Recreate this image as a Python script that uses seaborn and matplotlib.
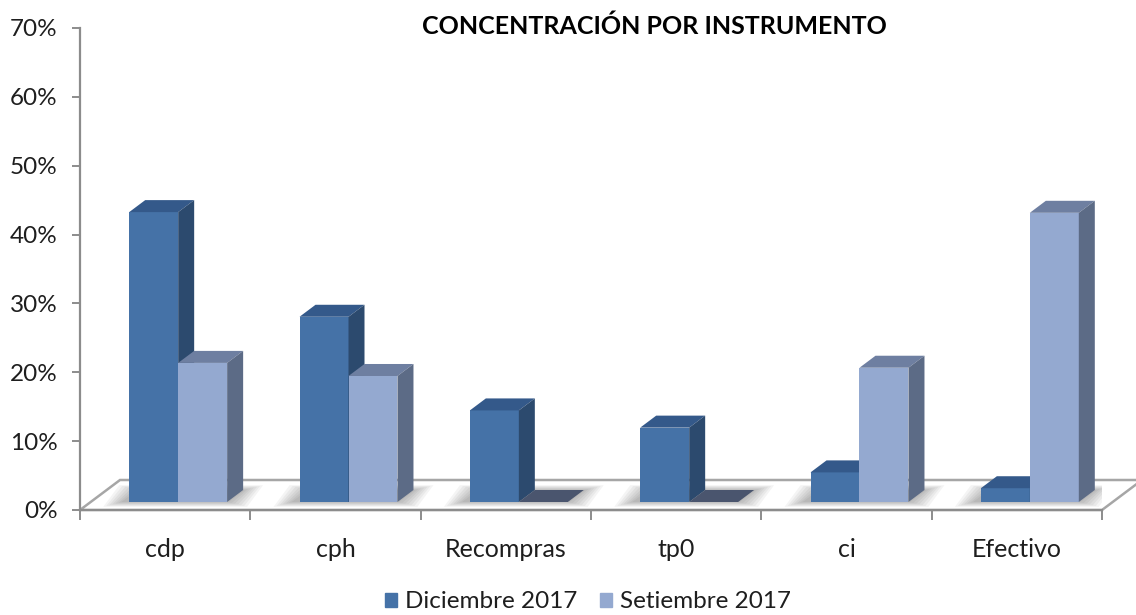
import numpy as np
import pandas as pd
import matplotlib
matplotlib.use('Agg')
import matplotlib.pyplot as plt
import seaborn as sns
from matplotlib.patches import Polygon, Patch
from matplotlib.transforms import ScaledTranslation
from matplotlib.ticker import PercentFormatter
from matplotlib.colors import to_rgb

# Datos (fraccion del total)
categorias = ['cdp', 'cph', 'Recompras', 'tp0', 'ci', 'Efectivo']
diciembre = [0.421, 0.269, 0.133, 0.108, 0.043, 0.020]
setiembre = [0.202, 0.183, 0.0, 0.0, 0.195, 0.420]
series = ['Diciembre 2017', 'Setiembre 2017']
titulo = 'CONCENTRACIÓN POR INSTRUMENTO'

# colores de las caras: frente, arriba, costado
frente = ['#4572A7', '#94A9D0']
superior = ['#34598A', '#6E7FA1']
lateral = ['#2C4A6E', '#5C6B86']
cero = '#4A556E'
gris = '#8C8C8C'

df = pd.DataFrame({
    'Instrumento': categorias * 2,
    'Valor': diciembre + setiembre,
    'Periodo': [series[0]] * len(categorias) + [series[1]] * len(categorias),
})

sns.set_theme(style='white')
plt.rcParams['font.family'] = ['Lato', 'DejaVu Sans']

DPI = 100
W, H = 1136, 615
fig = plt.figure(figsize=(W / DPI, H / DPI), dpi=DPI)
fig.patch.set_facecolor('white')
ax = fig.add_axes([80 / W, 1 - 510 / H, 1022 / W, 482 / H])

sns.barplot(data=df, x='Instrumento', y='Valor', hue='Periodo', order=categorias,
            hue_order=series, palette=frente, width=0.575, saturation=1,
            linewidth=0, legend=False, ax=ax)
ax.set_xlim(-0.5, len(categorias) - 0.5)
ax.set_ylim(0, 0.7)

barras = sorted(list(ax.patches), key=lambda p: p.get_x())

# escala pixel -> datos
px_x = len(categorias) / 1022
px_y = 0.7 / 482
dx, dy = 16 * px_x, 12 * px_y
desplaz = ax.transData + ScaledTranslation(13 / DPI, 8 / DPI, fig.dpi_scale_trans)

# piso en perspectiva
ox, oy = 40 / 1022, 30 / 482
piso = Polygon([(0, 0), (1, 0), (1 + ox, oy), (ox, oy)], closed=True,
               transform=ax.transAxes, facecolor='white', edgecolor='#A6A6A6',
               lw=1.8, clip_on=False, zorder=0.5)
ax.add_patch(piso)

# sombras suaves sobre el piso
for i in range(len(categorias)):
    grupo = [b for b in barras if abs(b.get_x() + b.get_width() / 2 - i) < 0.5]
    x0 = min(b.get_x() for b in grupo)
    x1 = max(b.get_x() + b.get_width() for b in grupo)
    for k in range(7):
        ex, ey = (k * 3 + 2) * px_x, (k * 0.8) * px_y
        sh = Polygon([(x0 - ex - 6 * px_x, -ey), (x1 + ex, -ey),
                      (x1 + dx + ex, dy + ey), (x0 + dx - ex - 6 * px_x, dy + ey)],
                     closed=True, transform=desplaz, facecolor='black',
                     edgecolor='none', alpha=0.045, zorder=0.8)
        ax.add_patch(sh)

# caras 3D de cada barra
for n, b in enumerate(barras):
    es_sep = np.allclose(to_rgb(b.get_facecolor()[:3]), to_rgb(frente[1]), atol=0.02)
    s = 1 if es_sep else 0
    x0, w, h = b.get_x(), b.get_width(), b.get_height()
    z = 2 + n * 0.01
    b.set_transform(desplaz)
    b.set_zorder(z)
    top_color = cero if h == 0 else superior[s]
    arriba = Polygon([(x0, h), (x0 + w, h), (x0 + w + dx, h + dy), (x0 + dx, h + dy)],
                     closed=True, transform=desplaz, facecolor=top_color,
                     edgecolor='none', zorder=z + 0.001)
    ax.add_patch(arriba)
    if h > 0:
        costado = Polygon([(x0 + w, 0), (x0 + w + dx, dy), (x0 + w + dx, h + dy), (x0 + w, h)],
                          closed=True, transform=desplaz, facecolor=lateral[s],
                          edgecolor='none', zorder=z + 0.002)
        ax.add_patch(costado)

# ejes
for lado in ['top', 'right']:
    ax.spines[lado].set_visible(False)
for lado in ['left', 'bottom']:
    ax.spines[lado].set_color(gris)
    ax.spines[lado].set_linewidth(1.6)
ax.spines['bottom'].set_zorder(0.6)

ax.yaxis.set_major_formatter(PercentFormatter(1.0, decimals=0))
ax.set_yticks(np.arange(0, 0.71, 0.1))
ax.set_xticks(range(len(categorias)))
ax.set_xticklabels(categorias)
ax.set_xticks(np.arange(-0.5, len(categorias), 1), minor=True)
ax.tick_params(axis='y', left=True, direction='out', length=6, width=1.4, color=gris,
               labelsize=17.5, pad=10, labelcolor='#1E1E1E')
ax.tick_params(axis='x', which='major', bottom=True, length=0, labelsize=18, pad=20,
               labelcolor='#1E1E1E')
ax.tick_params(axis='x', which='minor', bottom=True, direction='out', length=7,
               width=1.4, color=gris)
ax.set_xlabel('')
ax.set_ylabel('')
ax.grid(False)
ax.set_facecolor('none')

fig.text(654 / W, 1 - 26 / H, titulo, ha='center', va='center', fontsize=18,
         fontweight='bold', color='black')

handles = [Patch(color=frente[0], label=series[0]), Patch(color=frente[1], label=series[1])]
fig.legend(handles=handles, loc='center', bbox_to_anchor=(588 / W, 13 / H), ncol=2,
           frameon=False, fontsize=17.5, handlelength=0.5, handleheight=0.5,
           handletextpad=0.3, columnspacing=0.95, labelcolor='#1E1E1E',
           borderpad=0.2)

fig.savefig('out.png', dpi=DPI)
